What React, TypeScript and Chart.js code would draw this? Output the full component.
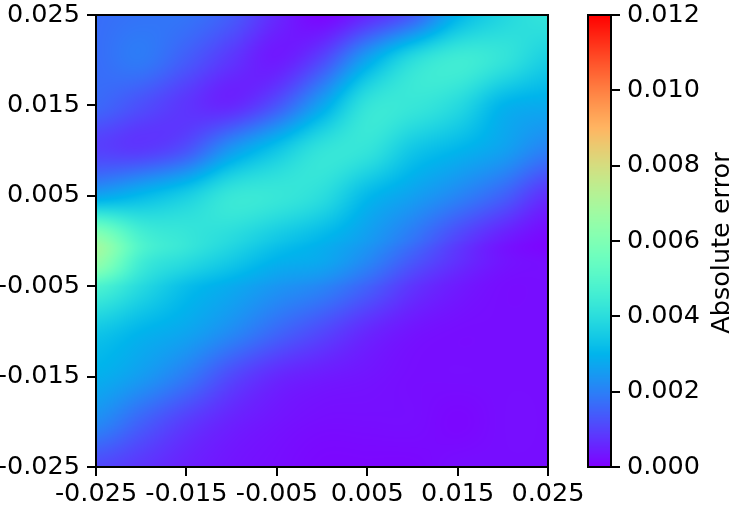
import React, { useEffect, useRef } from 'react';
import { Chart, registerables } from 'chart.js';

Chart.register(...registerables);

// ---- Data: absolute error sampled on grid nodes (x across, one array per y row) ----
const xNodes = [-0.025, -0.02, -0.015, -0.01, -0.005, 0, 0.005, 0.01, 0.015, 0.02, 0.025];
const yNodes = [0.025, 0.02, 0.015, 0.01, 0.005, 0, -0.0025, -0.005, -0.01, -0.015, -0.02, -0.025];

const errY0250 = [0.0017, 0.0018, 0.0018, 0.0014, 0.0006, 0.0001, 0.0006, 0.0014, 0.0030, 0.0038, 0.0042];
const errY0200 = [0.0017, 0.0019, 0.0014, 0.0008, 0.0004, 0.0011, 0.0027, 0.0040, 0.0045, 0.0042, 0.0036];
const errY0150 = [0.0016, 0.0012, 0.0008, 0.0006, 0.0013, 0.0027, 0.0042, 0.0043, 0.0039, 0.0030, 0.0028];
const errY0100 = [0.0010, 0.0009, 0.0013, 0.0025, 0.0034, 0.0042, 0.0042, 0.0034, 0.0030, 0.0026, 0.0020];
const errY0050 = [0.0027, 0.0031, 0.0036, 0.0043, 0.0043, 0.0040, 0.0031, 0.0026, 0.0021, 0.0015, 0.0007];
const errY0000 = [0.0065, 0.0048, 0.0043, 0.0039, 0.0034, 0.0030, 0.0025, 0.0018, 0.0010, 0.0004, 0.0001];
const errYm0025 = [0.0064, 0.0045, 0.0039, 0.0034, 0.0029, 0.0027, 0.0021, 0.0013, 0.0007, 0.0003, 0.0002];
const errYm0050 = [0.0048, 0.0039, 0.0032, 0.0028, 0.0024, 0.0021, 0.0015, 0.0008, 0.0004, 0.0002, 0.0002];
const errYm0100 = [0.0034, 0.0030, 0.0027, 0.0022, 0.0016, 0.0011, 0.0006, 0.0003, 0.0002, 0.0002, 0.0002];
const errYm0150 = [0.0029, 0.0025, 0.0019, 0.0011, 0.0006, 0.0004, 0.0003, 0.0002, 0.0002, 0.0002, 0.0002];
const errYm0200 = [0.0022, 0.0015, 0.0009, 0.0005, 0.0003, 0.0002, 0.0002, 0.0002, 0.0001, 0.0002, 0.0002];
const errYm0250 = [0.0011, 0.0008, 0.0005, 0.0003, 0.0002, 0.0001, 0.0001, 0.0001, 0.0002, 0.0002, 0.0002];

const errorRows = [
  errY0250, errY0200, errY0150, errY0100, errY0050, errY0000,
  errYm0025, errYm0050, errYm0100, errYm0150, errYm0200, errYm0250,
];

const axisTickValues = [-0.025, -0.015, -0.005, 0.005, 0.015, 0.025];
const axisTickLabels = ['-0.025', '-0.015', '-0.005', '0.005', '0.015', '0.025'];

const cbarTickValues = [0, 0.002, 0.004, 0.006, 0.008, 0.01, 0.012];
const cbarTickLabels = ['0.000', '0.002', '0.004', '0.006', '0.008', '0.010', '0.012'];
const cbarTitle = 'Absolute error';
const vMin = 0;
const vMax = 0.012;

const FONT = { family: 'DejaVu Sans', size: 25.5 };

// matplotlib "rainbow" colormap
function rainbow(t: number): [number, number, number] {
  const u = Math.min(1, Math.max(0, t));
  const c = (v: number) => Math.round(Math.min(1, Math.max(0, v)) * 255);
  return [c(Math.abs(2 * u - 0.5)), c(Math.sin(Math.PI * u)), c(Math.cos((Math.PI / 2) * u))];
}

// fractional index of v inside ascending node list
function fracIndex(nodes: number[], v: number): number {
  const n = nodes.length;
  if (v <= nodes[0]) return 0;
  if (v >= nodes[n - 1]) return n - 1;
  let i = 0;
  while (i < n - 2 && v > nodes[i + 1]) i++;
  return i + (v - nodes[i]) / (nodes[i + 1] - nodes[i]);
}

// Catmull-Rom weights for the 4 neighbouring nodes
function cubicTaps(idx: number, n: number): { ids: number[]; ws: number[] } {
  const i0 = Math.min(Math.floor(idx), n - 1);
  const t = idx - i0;
  const t2 = t * t;
  const t3 = t2 * t;
  const ws = [
    (-t3 + 2 * t2 - t) / 2,
    (3 * t3 - 5 * t2 + 2) / 2,
    (-3 * t3 + 4 * t2 + t) / 2,
    (t3 - t2) / 2,
  ];
  const ids = [i0 - 1, i0, i0 + 1, i0 + 2].map((k) => Math.max(0, Math.min(n - 1, k)));
  return { ids, ws };
}

function labelFor(values: number[], labels: string[], v: number) {
  let best = 0;
  values.forEach((tv, i) => {
    if (Math.abs(tv - v) < Math.abs(values[best] - v)) best = i;
  });
  return labels[best];
}

const heatmapPlugin = {
  id: 'heatmap',
  beforeDatasetsDraw(chart: any) {
    const { ctx, chartArea, scales } = chart;
    const xs = scales.x;
    const ys = scales.y;
    const pts = chart.data.datasets[0].data as { x: number; y: number; v: number }[];
    const gx = Array.from(new Set(pts.map((p) => p.x))).sort((a, b) => a - b);
    const gy = Array.from(new Set(pts.map((p) => p.y))).sort((a, b) => a - b);
    const grid = gy.map(() => new Array(gx.length).fill(0));
    pts.forEach((p) => {
      grid[gy.indexOf(p.y)][gx.indexOf(p.x)] = p.v;
    });
    const left = Math.round(chartArea.left);
    const top = Math.round(chartArea.top);
    const w = Math.round(chartArea.right) - left;
    const h = Math.round(chartArea.bottom) - top;
    const colTaps = [];
    for (let px = 0; px < w; px++) {
      colTaps.push(cubicTaps(fracIndex(gx, xs.getValueForPixel(left + px + 0.5)), gx.length));
    }
    const off = document.createElement('canvas');
    off.width = w;
    off.height = h;
    const octx = off.getContext('2d')!;
    const img = octx.createImageData(w, h);
    for (let py = 0; py < h; py++) {
      const rt = cubicTaps(fracIndex(gy, ys.getValueForPixel(top + py + 0.5)), gy.length);
      for (let px = 0; px < w; px++) {
        const ct = colTaps[px];
        let v = 0;
        for (let a = 0; a < 4; a++) {
          const row = grid[rt.ids[a]];
          let s = 0;
          for (let b = 0; b < 4; b++) s += row[ct.ids[b]] * ct.ws[b];
          v += s * rt.ws[a];
        }
        const [r, g, bl] = rainbow((v - vMin) / (vMax - vMin));
        const k = (py * w + px) * 4;
        img.data[k] = r;
        img.data[k + 1] = g;
        img.data[k + 2] = bl;
        img.data[k + 3] = 255;
      }
    }
    octx.putImageData(img, 0, 0);
    ctx.save();
    ctx.drawImage(off, left, top, w, h);
    ctx.restore();
  },
  afterDatasetsDraw(chart: any) {
    const { ctx, chartArea } = chart;
    ctx.save();
    ctx.strokeStyle = '#000';
    ctx.lineWidth = 2;
    ctx.strokeRect(chartArea.left, chartArea.top, chartArea.right - chartArea.left, chartArea.bottom - chartArea.top);
    ctx.restore();
  },
};

const colorbarPlugin = {
  id: 'colorbar',
  beforeDatasetsDraw(chart: any) {
    const { ctx, chartArea, scales } = chart;
    const ys = scales.y;
    const top = Math.round(chartArea.top);
    const bottom = Math.round(chartArea.bottom);
    for (let py = top; py < bottom; py++) {
      const v = ys.getValueForPixel(py + 0.5);
      const [r, g, b] = rainbow((v - vMin) / (vMax - vMin));
      ctx.fillStyle = `rgb(${r},${g},${b})`;
      ctx.fillRect(chartArea.left, py, chartArea.right - chartArea.left, 1);
    }
  },
  afterDatasetsDraw(chart: any) {
    const { ctx, chartArea, scales } = chart;
    ctx.save();
    ctx.strokeStyle = '#000';
    ctx.lineWidth = 2;
    ctx.strokeRect(chartArea.left, chartArea.top, chartArea.right - chartArea.left, chartArea.bottom - chartArea.top);
    ctx.translate(scales.y.right - 26, (chartArea.top + chartArea.bottom) / 2 + 2);
    ctx.rotate(-Math.PI / 2);
    ctx.fillStyle = '#000';
    ctx.font = `${FONT.size}px "${FONT.family}"`;
    ctx.textAlign = 'center';
    ctx.textBaseline = 'middle';
    ctx.fillText(cbarTitle, 0, 0);
    ctx.restore();
  },
};

export default function App() {
  const mainRef = useRef<HTMLCanvasElement>(null);
  const cbarRef = useRef<HTMLCanvasElement>(null);

  useEffect(() => {
    const points: { x: number; y: number; v: number }[] = [];
    yNodes.forEach((yv, r) => {
      xNodes.forEach((xv, c) => {
        points.push({ x: xv, y: yv, v: errorRows[r][c] });
      });
    });

    const tickCommon = {
      autoSkip: false,
      maxRotation: 0,
      minRotation: 0,
      color: '#000',
      font: FONT,
    };
    const gridCommon = {
      drawOnChartArea: false,
      drawTicks: true,
      tickLength: 9,
      color: '#000',
      lineWidth: 2,
    };

    const main = new Chart(mainRef.current!, {
      type: 'scatter',
      data: { datasets: [{ data: points as any, pointRadius: 0, showLine: false }] },
      options: {
        responsive: false,
        animation: false,
        events: [],
        layout: { padding: { left: 0, top: 15, right: 200, bottom: 0 } },
        plugins: { legend: { display: false }, tooltip: { enabled: false } },
        scales: {
          x: {
            type: 'linear',
            min: -0.025,
            max: 0.025,
            afterBuildTicks: (s: any) => {
              s.ticks = axisTickValues.map((v) => ({ value: v }));
            },
            afterFit: (s: any) => {
              s.height = 48;
              s.paddingLeft = 0;
              s.paddingRight = 0;
            },
            ticks: { ...tickCommon, padding: 3, callback: (v: any) => labelFor(axisTickValues, axisTickLabels, Number(v)) },
            grid: gridCommon,
            border: { display: false },
          },
          y: {
            type: 'linear',
            min: -0.025,
            max: 0.025,
            afterBuildTicks: (s: any) => {
              s.ticks = axisTickValues.map((v) => ({ value: v }));
            },
            afterFit: (s: any) => {
              s.width = 96;
              s.paddingTop = 0;
              s.paddingBottom = 0;
            },
            ticks: { ...tickCommon, padding: 7, callback: (v: any) => labelFor(axisTickValues, axisTickLabels, Number(v)) },
            grid: gridCommon,
            border: { display: false },
          },
        },
      },
      plugins: [heatmapPlugin],
    });

    const cbar = new Chart(cbarRef.current!, {
      type: 'scatter',
      data: { datasets: [{ data: [], pointRadius: 0 }] },
      options: {
        responsive: false,
        animation: false,
        events: [],
        layout: { padding: { left: 588, top: 15, right: 0, bottom: 48 } },
        plugins: { legend: { display: false }, tooltip: { enabled: false } },
        scales: {
          x: { type: 'linear', display: false, min: 0, max: 1 },
          y: {
            type: 'linear',
            position: 'right',
            min: vMin,
            max: vMax,
            afterBuildTicks: (s: any) => {
              s.ticks = cbarTickValues.map((v) => ({ value: v }));
            },
            afterFit: (s: any) => {
              s.width = 137;
              s.paddingTop = 0;
              s.paddingBottom = 0;
            },
            ticks: { ...tickCommon, padding: 7, callback: (v: any) => labelFor(cbarTickValues, cbarTickLabels, Number(v)) },
            grid: gridCommon,
            border: { display: false },
          },
        },
      },
      plugins: [colorbarPlugin],
    });

    return () => {
      main.destroy();
      cbar.destroy();
    };
  }, []);

  return (
    <div style={{ position: 'fixed', left: 0, top: 0, width: 748, height: 515, background: '#fff' }}>
      <canvas ref={mainRef} width={748} height={515} style={{ position: 'absolute', left: 0, top: 0 }} />
      <canvas ref={cbarRef} width={748} height={515} style={{ position: 'absolute', left: 0, top: 0 }} />
    </div>
  );
}
